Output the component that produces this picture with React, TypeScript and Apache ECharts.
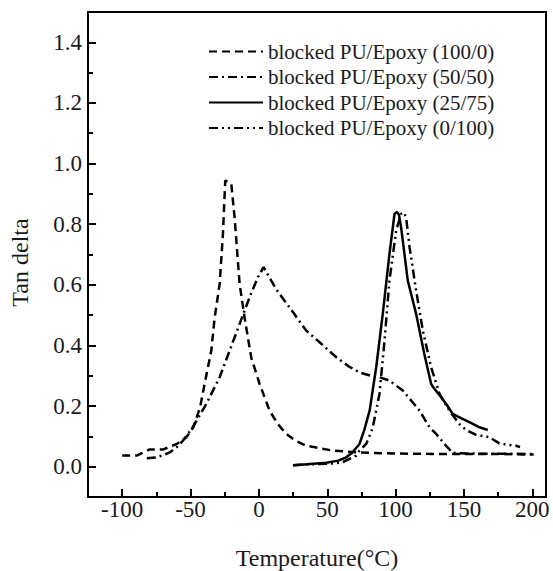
import React, { useEffect, useRef } from "react";
import * as echarts from "echarts";

const seriesNames = [
  "blocked PU/Epoxy (100/0)",
  "blocked PU/Epoxy (50/50)",
  "blocked PU/Epoxy (25/75)",
  "blocked PU/Epoxy (0/100)",
];

const pu100: [number, number][] = [
  [-100, 0.037], [-89, 0.037], [-80, 0.057], [-70, 0.057], [-60, 0.075], [-53, 0.097],
  [-48, 0.13], [-43, 0.196], [-39.7, 0.273], [-34.8, 0.383], [-32.4, 0.49], [-28.7, 0.603],
  [-26.3, 0.768], [-24.6, 0.944], [-22.5, 0.94], [-20.2, 0.933], [-17.8, 0.823], [-14.1, 0.603],
  [-10.4, 0.49], [-5.6, 0.36], [0.5, 0.273], [7.8, 0.185], [14, 0.14], [20, 0.108], [27, 0.085],
  [34.6, 0.069], [41, 0.064], [54, 0.053], [73.6, 0.047], [93, 0.044], [127, 0.042], [150, 0.042],
  [175, 0.042], [201, 0.04],
];

const pu50: [number, number][] = [
  [-82, 0.028], [-76, 0.03], [-70, 0.038], [-65.3, 0.047], [-60, 0.065], [-55.5, 0.086],
  [-48.4, 0.13], [-38.5, 0.207], [-28.7, 0.295], [-21.4, 0.383], [-14.1, 0.471], [-6.8, 0.559],
  [-0.7, 0.625], [3.4, 0.658], [7, 0.63], [12.7, 0.585], [24.9, 0.51], [34.6, 0.449], [44, 0.412],
  [56.6, 0.361], [66, 0.33], [73.6, 0.311], [82, 0.3], [88.2, 0.295], [95.5, 0.284], [105.3, 0.251],
  [117.5, 0.185], [124.8, 0.13], [129.7, 0.108], [135.7, 0.075], [141.8, 0.045], [160, 0.043],
  [180, 0.043], [200, 0.042],
];

const pu25: [number, number][] = [
  [24.9, 0.005], [35, 0.008], [49.3, 0.013], [58, 0.02], [63.9, 0.031], [68, 0.045], [73.6, 0.075],
  [77, 0.12], [81, 0.185], [85.8, 0.328], [90.6, 0.504], [95.5, 0.702], [99.2, 0.834], [100.9, 0.84],
  [102.5, 0.83], [104, 0.79], [108.9, 0.614], [115, 0.504], [121, 0.372], [126, 0.273], [127.5, 0.262],
  [133.3, 0.229], [137, 0.207], [141.8, 0.174], [146.7, 0.163], [151.6, 0.152], [156.5, 0.141],
  [161.3, 0.13], [167.4, 0.121],
];

const pu0: [number, number][] = [
  [25, 0.005], [40, 0.008], [55, 0.011], [61, 0.014], [71, 0.036], [73.6, 0.053], [78.5, 0.075],
  [82, 0.113], [83.3, 0.13], [88.2, 0.24], [91.9, 0.416], [95.5, 0.614], [100.4, 0.779], [104, 0.834],
  [106.5, 0.838], [108, 0.81], [110.2, 0.724], [115, 0.581], [119.9, 0.449], [126, 0.328],
  [132.1, 0.24], [139.4, 0.185], [146.7, 0.14], [152, 0.12], [158.9, 0.105], [168.6, 0.097],
  [175.9, 0.077], [182, 0.072], [188, 0.069], [191, 0.065],
];

const xMajorTicks = [-100, -50, 0, 50, 100, 150, 200];
const xMinorTicks = [-75, -25, 25, 75, 125, 175];
const yMajorTicks = [0, 0.2, 0.4, 0.6, 0.8, 1.0, 1.2, 1.4];
const yMinorTicks = [0.1, 0.3, 0.5, 0.7, 0.9, 1.1, 1.3];

const FONT = "'Liberation Serif', 'Times New Roman', serif";
const TXT = "#1a1a1a";

export default function App() {
  const ref = useRef<HTMLDivElement>(null);
  useEffect(() => {
    if (!ref.current) return;
    const chart = echarts.init(ref.current, undefined, { renderer: "svg" });
    const mkSeries = (name: string, data: [number, number][], type: any) => ({
      name,
      type: "line",
      data,
      symbol: "none",
      smooth: false,
      xAxisIndex: 0,
      yAxisIndex: 0,
      lineStyle: { color: "#000", width: 2.5, type, cap: "butt" },
      itemStyle: { color: "#000" },
    });
    const xBase = { type: "value", min: -125, max: 210, gridIndex: 0, position: "bottom", splitLine: { show: false } };
    const yBase = { type: "value", min: -0.1, max: 1.5, gridIndex: 0, position: "left", splitLine: { show: false } };
    chart.setOption({
      animation: false,
      backgroundColor: "#fff",
      grid: {
        left: 88, right: 7, top: 12, bottom: 74,
        containLabel: false, outerBoundsMode: "none",
        show: true, borderColor: "#000", borderWidth: 2, backgroundColor: "transparent",
      },
      legend: {
        orient: "vertical",
        left: 208,
        top: 41,
        padding: 0,
        itemWidth: 54,
        itemHeight: 14,
        itemGap: 4.5,
        data: seriesNames,
        itemStyle: { opacity: 0 },
        textStyle: { fontFamily: FONT, fontSize: 21, color: TXT },
      },
      xAxis: [
        {
          ...xBase,
          name: "Temperature(°C)",
          nameLocation: "middle",
          nameGap: 49,
          nameTextStyle: { fontFamily: FONT, fontSize: 24, color: TXT },
          axisLine: { show: true, onZero: false, lineStyle: { color: "#000", width: 2 } },
          axisTick: { show: true, inside: true, length: 8, customValues: xMajorTicks, lineStyle: { color: "#000", width: 2 } },
          axisLabel: { show: true, customValues: xMajorTicks, fontFamily: FONT, fontSize: 23, color: TXT, margin: 1 },
        },
        {
          ...xBase,
          axisLine: { show: false, onZero: false },
          axisTick: { show: true, inside: true, length: 5, customValues: xMinorTicks, lineStyle: { color: "#000", width: 2 } },
          axisLabel: { show: false },
        },
      ],
      yAxis: [
        {
          ...yBase,
          name: "Tan delta",
          nameLocation: "middle",
          nameGap: 56,
          nameRotate: 90,
          nameTextStyle: { fontFamily: FONT, fontSize: 24, color: TXT, padding: [0, 16, 0, 0] },
          axisLine: { show: true, onZero: false, lineStyle: { color: "#000", width: 2 } },
          axisTick: { show: true, inside: true, length: 8, customValues: yMajorTicks, lineStyle: { color: "#000", width: 2 } },
          axisLabel: {
            show: true,
            customValues: yMajorTicks,
            fontFamily: FONT,
            fontSize: 23,
            color: TXT,
            margin: 6,
            formatter: (v: number) => v.toFixed(1),
          },
        },
        {
          ...yBase,
          axisLine: { show: false, onZero: false },
          axisTick: { show: true, inside: true, length: 5, customValues: yMinorTicks, lineStyle: { color: "#000", width: 2 } },
          axisLabel: { show: false },
        },
      ],
      series: [
        mkSeries(seriesNames[0], pu100, [8, 5]),
        mkSeries(seriesNames[1], pu50, [9, 4, 2, 4]),
        mkSeries(seriesNames[2], pu25, "solid"),
        mkSeries(seriesNames[3], pu0, [9, 4, 2, 4, 2, 4]),
      ],
    });
    return () => chart.dispose();
  }, []);
  return <div ref={ref} style={{ position: "absolute", left: 0, top: 0, width: 553, height: 571 }} />;
}
